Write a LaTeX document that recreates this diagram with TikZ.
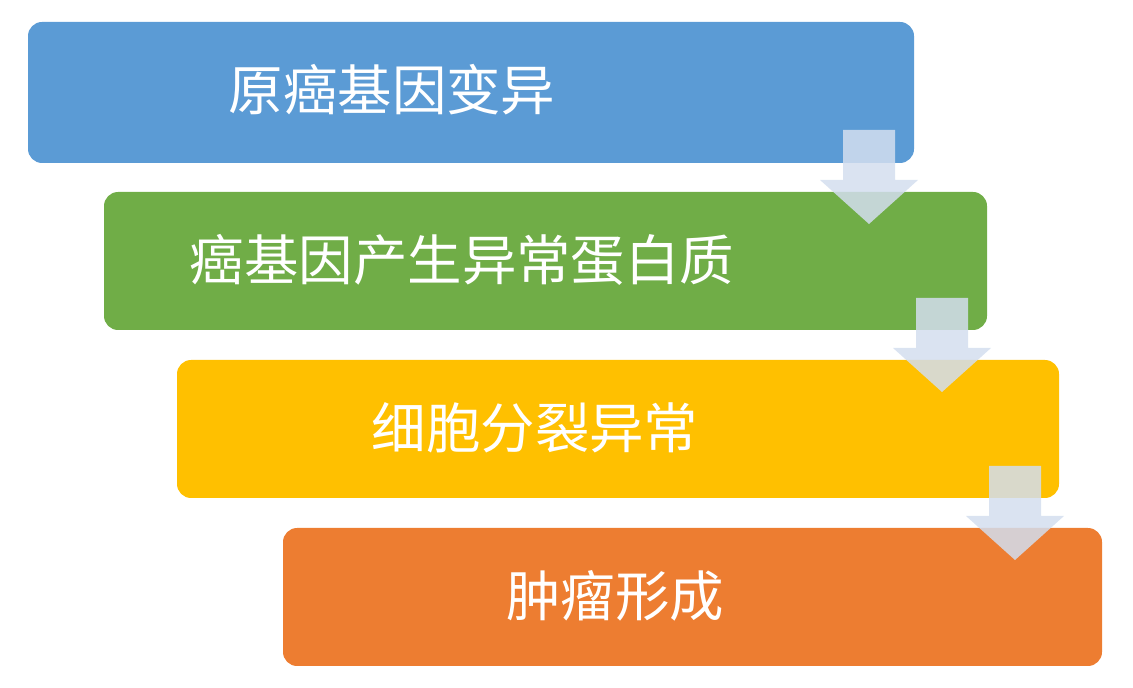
\documentclass[tikz,border=0pt]{standalone}
\usepackage{fontspec}
\newfontfamily\cjk{Noto Sans CJK SC}
\definecolor{stepblue}{HTML}{5B9BD5}
\definecolor{stepgreen}{HTML}{70AD47}
\definecolor{stepgold}{HTML}{FFC000}
\definecolor{steporange}{HTML}{ED7D31}
\definecolor{arrowfill}{HTML}{D3DEEF}
\begin{document}
\begin{tikzpicture}[x=0.02cm,y=-0.02cm]
	\tikzstyle{stepbox}=[rounded corners=8pt]
	\tikzstyle{steptext}=[text=white,font=\cjk\fontsize{31}{31}\selectfont,inner sep=0pt]
	\tikzstyle{downarrow}=[fill=arrowfill,fill opacity=0.85]
	\useasboundingbox (0,0) rectangle (1133,688);
	\fill[stepbox,stepblue] (28,22) rectangle (914,163);
	\fill[stepbox,stepgreen] (104,192) rectangle (987,330);
	\fill[stepbox,stepgold] (177,360) rectangle (1059,498);
	\fill[stepbox,steporange] (283,528) rectangle (1102,666);
	\node[steptext] (s1) at (392,90) {原癌基因变异};
	\node[steptext] (s2) at (462,260) {癌基因产生异常蛋白质};
	\node[steptext] (s3) at (535,428) {细胞分裂异常};
	\node[steptext] (s4) at (615,596) {肿瘤形成};
	% block arrows between the steps
	\foreach \dx/\dy in {0/0,73/168,146/336}{
		\fill[downarrow,shift={(\dx,\dy)}] (843,130) -- (895,130) -- (895,180) -- (918,180)
			-- (869,224) -- (820,180) -- (843,180) -- cycle;
	}
\end{tikzpicture}
\end{document}
